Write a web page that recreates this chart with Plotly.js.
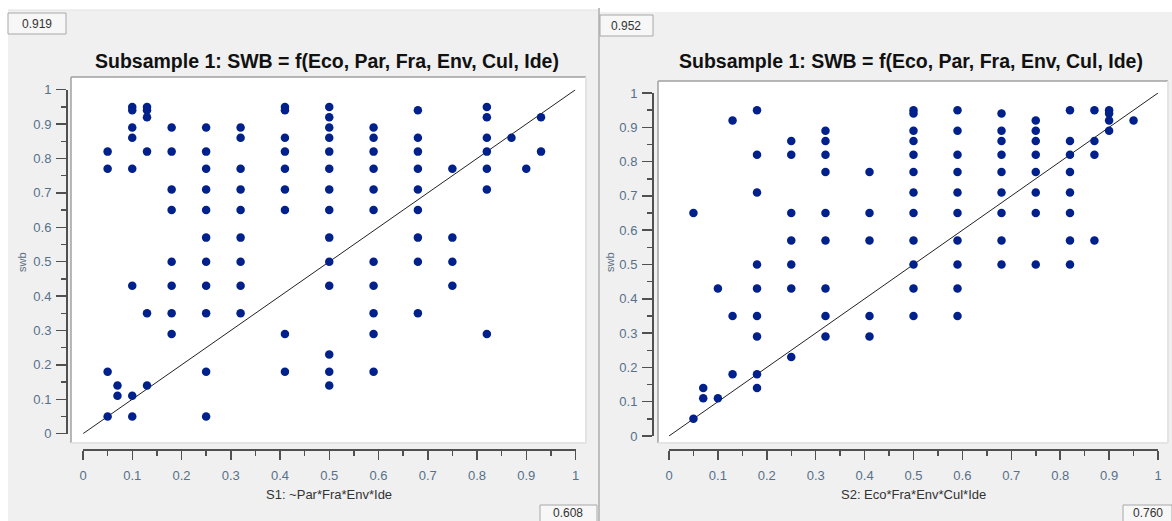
<!DOCTYPE html>
<html><head><meta charset="utf-8">
<script src="https://cdn.plot.ly/plotly-3.0.1.min.js"></script>
<style>html,body{margin:0;padding:0;background:#fff;}#chart{width:1172px;height:521px;}</style>
</head><body><div id="chart"></div>
<script>
// ---------- data ----------
const chartTitle = "Subsample 1: SWB = f(Eco, Par, Fra, Env, Cul, Ide)";
const yAxisLabel = "swb";
const s1Label = "S1: ~Par*Fra*Env*Ide";
const s2Label = "S2: Eco*Fra*Env*Cul*Ide";
const s1Consistency = "0.919";
const s1Coverage = "0.608";
const s2Consistency = "0.952";
const s2Coverage = "0.760";
const tickValues = [0, 0.1, 0.2, 0.3, 0.4, 0.5, 0.6, 0.7, 0.8, 0.9, 1];
const tickLabels = ["0", "0.1", "0.2", "0.3", "0.4", "0.5", "0.6", "0.7", "0.8", "0.9", "1"];
const minorTickValues = [0.05, 0.15, 0.25, 0.35, 0.45, 0.55, 0.65, 0.75, 0.85, 0.95];

// S1 membership (x) and the swb memberships observed at each x
const s1Cols = [0.05, 0.07, 0.10, 0.13, 0.18, 0.25, 0.32, 0.41, 0.50, 0.59, 0.68, 0.75, 0.82, 0.87, 0.90, 0.93];
const s1Swb = [
  [0.82, 0.77, 0.18, 0.05],
  [0.14, 0.11],
  [0.95, 0.94, 0.89, 0.86, 0.77, 0.43, 0.11, 0.05],
  [0.95, 0.94, 0.92, 0.82, 0.35, 0.14],
  [0.89, 0.82, 0.71, 0.65, 0.50, 0.43, 0.35, 0.29],
  [0.89, 0.82, 0.77, 0.71, 0.65, 0.57, 0.50, 0.43, 0.35, 0.18, 0.05],
  [0.89, 0.86, 0.77, 0.71, 0.65, 0.57, 0.50, 0.43, 0.35],
  [0.95, 0.94, 0.86, 0.82, 0.77, 0.71, 0.65, 0.29, 0.18],
  [0.95, 0.92, 0.89, 0.86, 0.82, 0.77, 0.71, 0.65, 0.57, 0.50, 0.43, 0.23, 0.18, 0.14],
  [0.89, 0.86, 0.82, 0.77, 0.71, 0.65, 0.50, 0.43, 0.35, 0.29, 0.18],
  [0.94, 0.86, 0.82, 0.77, 0.71, 0.65, 0.57, 0.50, 0.35],
  [0.77, 0.57, 0.50, 0.43],
  [0.95, 0.92, 0.86, 0.82, 0.77, 0.71, 0.29],
  [0.86],
  [0.77],
  [0.92, 0.82]
];

// S2 membership (x) and the swb memberships observed at each x
const s2Cols = [0.05, 0.07, 0.10, 0.13, 0.18, 0.25, 0.32, 0.41, 0.50, 0.59, 0.68, 0.75, 0.82, 0.87, 0.90, 0.95];
const s2Swb = [
  [0.65, 0.05],
  [0.14, 0.11],
  [0.43, 0.11],
  [0.92, 0.35, 0.18],
  [0.95, 0.82, 0.71, 0.50, 0.43, 0.35, 0.29, 0.18, 0.14],
  [0.86, 0.82, 0.65, 0.57, 0.50, 0.43, 0.23],
  [0.89, 0.86, 0.82, 0.77, 0.65, 0.57, 0.43, 0.35, 0.29],
  [0.77, 0.65, 0.57, 0.35, 0.29],
  [0.95, 0.94, 0.89, 0.86, 0.82, 0.77, 0.71, 0.65, 0.57, 0.50, 0.43, 0.35],
  [0.95, 0.89, 0.82, 0.77, 0.71, 0.65, 0.57, 0.50, 0.43, 0.35],
  [0.94, 0.89, 0.86, 0.82, 0.77, 0.71, 0.65, 0.57, 0.50],
  [0.92, 0.89, 0.86, 0.82, 0.77, 0.71, 0.65, 0.50],
  [0.95, 0.86, 0.82, 0.77, 0.71, 0.65, 0.57, 0.50],
  [0.95, 0.86, 0.82, 0.57],
  [0.95, 0.94, 0.92, 0.89],
  [0.92]
];

const diagX = [0, 1];
const diagY = [0, 1];

// ---------- helpers ----------
const W = 1172, H = 521;
const px = v => v / W;
const py = v => 1 - v / H;
function flatten(cols, vals) {
  const x = [], y = [];
  cols.forEach((c, i) => vals[i].forEach(v => { x.push(c); y.push(v); }));
  return {x, y};
}
const p1 = flatten(s1Cols, s1Swb);
const p2 = flatten(s2Cols, s2Swb);

const dotColor = '#00208c';
const axisColor = '#505050';
const tickFontColor = '#56708a';
const FONT = 'Liberation Sans, Arial, sans-serif';

const traces = [
  {x: diagX, y: diagY, xaxis: 'x', yaxis: 'y', mode: 'lines', line: {color: '#222', width: 1}, hoverinfo: 'skip', showlegend: false, cliponaxis: false},
  {x: p1.x, y: p1.y, xaxis: 'x', yaxis: 'y', mode: 'markers', marker: {color: dotColor, size: 8.5}, showlegend: false, cliponaxis: false},
  {x: diagX, y: diagY, xaxis: 'x2', yaxis: 'y2', mode: 'lines', line: {color: '#222', width: 1}, hoverinfo: 'skip', showlegend: false, cliponaxis: false},
  {x: p2.x, y: p2.y, xaxis: 'x2', yaxis: 'y2', mode: 'markers', marker: {color: dotColor, size: 8.5}, showlegend: false, cliponaxis: false}
];

function xAx(d0, d1) {
  return {
    domain: [px(d0), px(d1)], range: [0, 1], anchor: 'free', position: py(450),
    showline: true, linecolor: axisColor, linewidth: 2,
    ticks: 'outside', ticklen: 9, tickwidth: 1.5, tickcolor: axisColor,
    tickvals: tickValues, ticktext: tickLabels, ticklabelstandoff: 4,
    minor: {tickvals: minorTickValues, ticks: 'outside', ticklen: 5, tickwidth: 1.5, tickcolor: axisColor},
    showgrid: false, zeroline: false, fixedrange: true,
    tickfont: {family: FONT, size: 13, color: tickFontColor}
  };
}
function yAx(d0, d1, pos) {
  return {
    domain: [py(d0), py(d1)], range: [0, 1], anchor: 'free', position: px(pos),
    showline: true, linecolor: axisColor, linewidth: 2,
    ticks: 'outside', ticklen: 10, tickwidth: 1.5, tickcolor: axisColor,
    tickvals: tickValues, ticktext: tickLabels, ticklabelstandoff: 2,
    minor: {tickvals: minorTickValues, ticks: 'outside', ticklen: 5, tickwidth: 1.5, tickcolor: axisColor},
    showgrid: false, zeroline: false, fixedrange: true,
    tickfont: {family: FONT, size: 13, color: tickFontColor}
  };
}

function rect(x0, y0, x1, y1, fill, line, lw) {
  return {type: 'rect', xref: 'paper', yref: 'paper', x0: px(x0), x1: px(x1), y0: py(y1), y1: py(y0),
          fillcolor: fill, line: {color: line || 'rgba(0,0,0,0)', width: lw || 0}, layer: 'below'};
}
function seg(x0, y0, x1, y1, color, w) {
  return {type: 'line', xref: 'paper', yref: 'paper', x0: px(x0), x1: px(x1), y0: py(y0), y1: py(y1),
          line: {color: color, width: w}, layer: 'below'};
}

const shapes = [
  // panel backgrounds
  rect(8, 10, 598, 521, '#f0f0f0'),
  rect(600, 12, 1172, 521, '#f0f0f0'),
  seg(599, 8, 599, 521, '#a8a8a8', 1.5),
  seg(8, 10, 598, 10, '#e2e2e2', 1),
  // plot areas (white, sunken border)
  rect(71, 77, 586, 443, '#ffffff'),
  seg(71, 77, 586, 77, '#a0a0a0', 1.5),
  seg(71, 77, 71, 443, '#a0a0a0', 1.5),
  seg(71, 443, 586, 443, '#e4e4e4', 2),
  seg(586, 77, 586, 443, '#e4e4e4', 2),
  rect(658, 81, 1168, 443, '#ffffff'),
  seg(658, 81, 1168, 81, '#a0a0a0', 1.5),
  seg(658, 81, 658, 443, '#a0a0a0', 1.5),
  seg(658, 443, 1168, 443, '#e4e4e4', 2),
  seg(1168, 81, 1168, 443, '#e4e4e4', 2),
  // value boxes
  rect(8, 13, 66, 34, '#f7f7f7', '#a8a8a8', 1),
  rect(600, 15, 653, 36, '#f7f7f7', '#a8a8a8', 1),
  rect(540, 505, 597, 525, '#f7f7f7', '#a8a8a8', 1),
  rect(1123, 505, 1172, 525, '#f7f7f7', '#a8a8a8', 1)
];

function ann(text, x, y, opts) {
  return Object.assign({text: text, xref: 'paper', yref: 'paper', x: px(x), y: py(y),
    xanchor: 'center', yanchor: 'middle', showarrow: false,
    font: {family: FONT, size: 12, color: '#333'}}, opts || {});
}

const annotations = [
  ann('<b>' + chartTitle + '</b>', 327, 61, {font: {family: FONT, size: 19.5, color: '#111'}}),
  ann('<b>' + chartTitle + '</b>', 911, 61, {font: {family: FONT, size: 19.5, color: '#111'}}),
  ann(s1Label, 329, 494, {font: {family: FONT, size: 13, color: '#333'}}),
  ann(s2Label, 913, 494, {font: {family: FONT, size: 13, color: '#333'}}),
  ann(yAxisLabel, 22, 262, {textangle: -90, font: {family: FONT, size: 11, color: '#5a6f84'}}),
  ann(yAxisLabel, 610, 262, {textangle: -90, font: {family: FONT, size: 11, color: '#5a6f84'}}),
  ann(s1Consistency, 37, 23.5, {font: {family: FONT, size: 12, color: '#333'}}),
  ann(s2Consistency, 626, 25.5, {font: {family: FONT, size: 12, color: '#333'}}),
  ann(s1Coverage, 568, 513, {font: {family: FONT, size: 12, color: '#333'}}),
  ann(s2Coverage, 1148, 513, {font: {family: FONT, size: 12, color: '#333'}})
];

const layout = {
  width: W, height: H,
  margin: {l: 0, r: 0, t: 0, b: 0, pad: 0},
  paper_bgcolor: '#ffffff', plot_bgcolor: 'rgba(0,0,0,0)',
  showlegend: false,
  xaxis: xAx(83, 575.5),
  yaxis: yAx(433.7, 89.7, 67),
  xaxis2: xAx(669, 1158),
  yaxis2: yAx(436, 93, 653),
  shapes: shapes,
  annotations: annotations,
  font: {family: FONT}
};

Plotly.newPlot('chart', traces, layout, {displayModeBar: false, staticPlot: true});
</script>
</body></html>
